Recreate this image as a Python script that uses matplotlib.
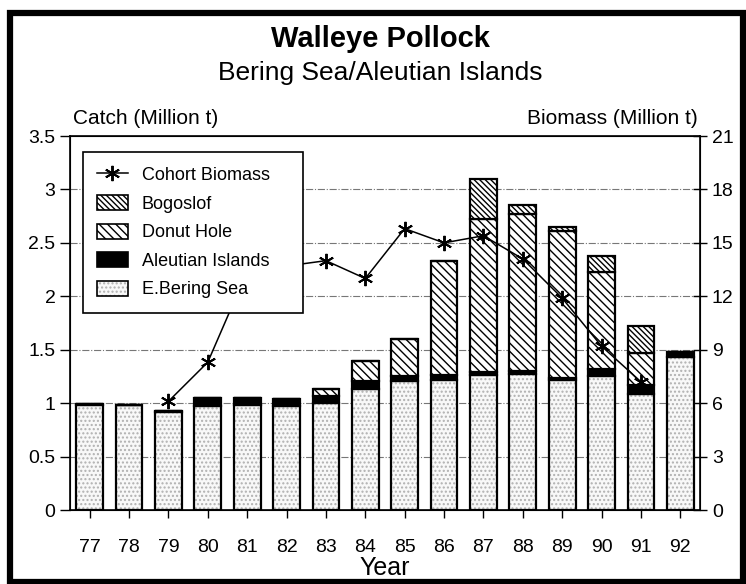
import matplotlib
matplotlib.use('Agg')
import matplotlib.pyplot as plt
from matplotlib.patches import Patch, Rectangle
from matplotlib.lines import Line2D

plt.rcParams['font.family'] = ['Liberation Sans', 'DejaVu Sans']
plt.rcParams['hatch.linewidth'] = 1.0

years = [77, 78, 79, 80, 81, 82, 83, 84, 85, 86, 87, 88, 89, 90, 91, 92]
year_labels = [str(y) for y in years]
# catch, million t
e_bering = [0.98, 0.98, 0.92, 0.97, 0.98, 0.97, 1.00, 1.13, 1.21, 1.22, 1.26, 1.27, 1.22, 1.25, 1.09, 1.43]
aleutian = [0.01, 0.006, 0.01, 0.08, 0.07, 0.07, 0.07, 0.08, 0.04, 0.04, 0.03, 0.03, 0.02, 0.07, 0.08, 0.05]
donut = [0, 0, 0, 0, 0, 0, 0.06, 0.18, 0.35, 1.07, 1.43, 1.47, 1.37, 0.91, 0.30, 0]
bogoslof = [0, 0, 0, 0, 0, 0, 0, 0, 0, 0, 0.38, 0.08, 0.04, 0.15, 0.25, 0]
# cohort biomass, million t
bio_years = [79, 80, 81, 82, 83, 84, 85, 86, 87, 88, 89, 90, 91]
cohort_biomass = [6.1, 8.3, 13.4, 13.7, 14.0, 13.0, 15.8, 15.0, 15.4, 14.1, 11.9, 9.2, 7.2]

fig = plt.figure(figsize=(7.46, 5.84), dpi=100)
ax = fig.add_axes([0.0938, 0.1267, 0.8445, 0.6404])
ax2 = ax.twinx()

w = 0.68
b1 = [e + a for e, a in zip(e_bering, aleutian)]
b2 = [b + d for b, d in zip(b1, donut)]

# stipple bottom segment, then outlines
ax.bar(years, e_bering, w, color='#f8f8f8', hatch='....', edgecolor='#b0b0b0', linewidth=0, zorder=2)
ax.bar(years, e_bering, w, fill=False, edgecolor='black', linewidth=1.6, zorder=3)
ax.bar(years, aleutian, w, bottom=e_bering, color='black', edgecolor='black', linewidth=1.6, zorder=3)
ax.bar(years, donut, w, bottom=b1, color='white', hatch='\\\\\\\\', edgecolor='black', linewidth=1.6, zorder=3)
ax.bar(years, bogoslof, w, bottom=b2, color='white', hatch='\\\\\\\\\\\\', edgecolor='black', linewidth=1.6, zorder=3)

ax.set_xlim(76.5, 92.5)
ax.set_ylim(0, 3.5)
ax.set_yticks([0, 0.5, 1, 1.5, 2, 2.5, 3, 3.5])
ax.set_yticklabels(['0', '0.5', '1', '1.5', '2', '2.5', '3', '3.5'])
ax.set_xticks(years)
ax.set_xticklabels(year_labels)
ax.tick_params(axis='both', labelsize=14, direction='out', length=6, width=1)
ax.tick_params(axis='x', pad=15)
ax.tick_params(axis='y', length=7)
for v in [0.5, 1, 1.5, 2, 2.5, 3]:
    ax.axhline(v, color='#777777', linestyle='-.', linewidth=0.8, zorder=1)
ax.set_xlabel('Year', fontsize=18, labelpad=0)
for s in ax.spines.values():
    s.set_linewidth(1.2)

ax2.plot(bio_years, cohort_biomass, color='black', linewidth=1.1,
         marker=(6, 2, 0), markersize=11, markeredgewidth=1.4, zorder=4)
ax2.set_ylim(0, 21)
ax2.set_yticks(range(0, 22, 3))
ax2.tick_params(axis='y', labelsize=14, direction='inout', length=10, width=1)

handles = [
    Line2D([], [], color='black', linewidth=1.1, marker=(6, 2, 0), markersize=11, markeredgewidth=1.4),
    Patch(facecolor='white', edgecolor='black', hatch='\\\\\\\\\\\\', linewidth=1.2),
    Patch(facecolor='white', edgecolor='black', hatch='\\\\\\\\', linewidth=1.2),
    Patch(facecolor='black', edgecolor='black', linewidth=1.2),
    (Patch(facecolor='#f8f8f8', edgecolor='#b0b0b0', hatch='....', linewidth=0),
     Patch(fill=False, edgecolor='black', linewidth=1.2)),
]
labels = ['Cohort Biomass', 'Bogoslof', 'Donut Hole', 'Aleutian Islands', 'E.Bering Sea']
leg = ax2.legend(handles, labels, loc='upper left', bbox_to_anchor=(0.0206, 0.957, 0.349, 0.0),
                 mode='expand', borderaxespad=0,
                 fontsize=13, frameon=True, fancybox=False, framealpha=1,
                 edgecolor='black', handlelength=1.67, handleheight=0.9,
                 labelspacing=0.6, borderpad=0.8, handletextpad=0.78)
leg.get_frame().set_linewidth(1.2)
leg.set_zorder(10)

fig.text(0.51, 1 - 39 / 584, 'Walleye Pollock', ha='center', va='center', fontsize=21, fontweight='bold')
fig.text(0.51, 1 - 73 / 584, 'Bering Sea/Aleutian Islands', ha='center', va='center', fontsize=19)
fig.text(73 / 746, 1 - 118 / 584, 'Catch (Million t)', ha='left', va='center', fontsize=15)
fig.text(698 / 746, 1 - 118 / 584, 'Biomass (Million t)', ha='right', va='center', fontsize=15)

# outer frame
fig.patches.append(Rectangle((10 / 746, 2 / 584), 733 / 746, 569 / 584, transform=fig.transFigure,
                             fill=False, edgecolor='black', linewidth=4.5))

fig.savefig('out.png', dpi=100)
